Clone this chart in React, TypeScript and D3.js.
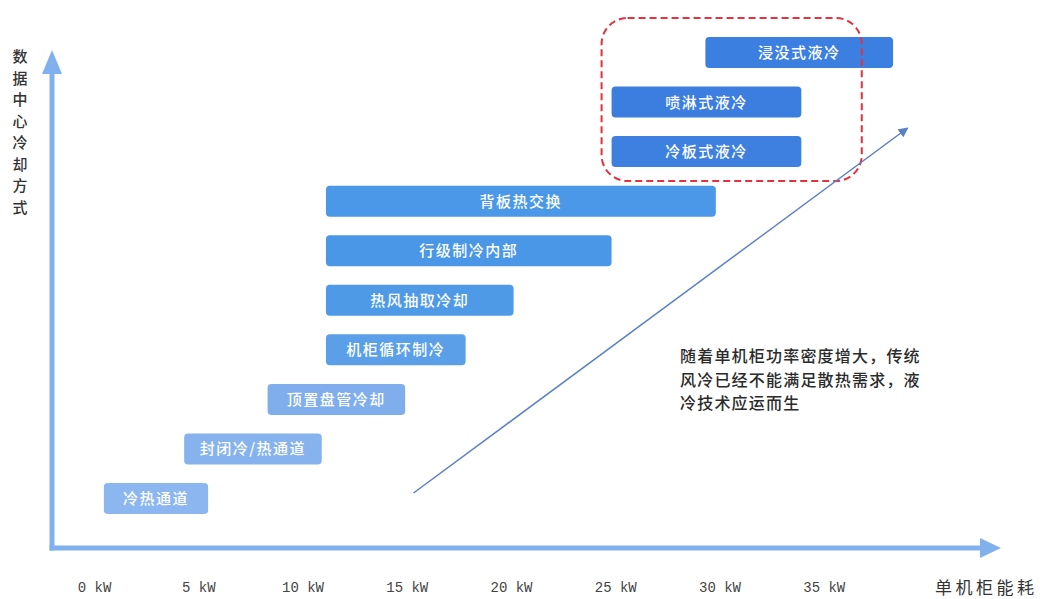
import React from "react";
import * as d3 from "d3";

const categories = [
  "浸没式液冷",
  "喷淋式液冷",
  "冷板式液冷",
  "背板热交换",
  "行级制冷内部",
  "热风抽取冷却",
  "机柜循环制冷",
  "顶置盘管冷却",
  "封闭冷/热通道",
  "冷热通道",
];
const startKW = [29.3, 24.8, 24.8, 11.1, 11.1, 11.1, 11.1, 8.3, 4.3, 0.45];
const endKW = [38.3, 33.9, 33.9, 29.8, 24.8, 20.1, 17.8, 14.9, 10.9, 5.45];
const barColors = [
  "#3b7fe0", "#3b7ee0", "#3d80e0", "#4a98e7", "#4a97e7",
  "#4f9ae7", "#5a9fe7", "#80aeec", "#86b3ee", "#8bb6ef",
];
const tickValues = [0, 5, 10, 15, 20, 25, 30, 35];
const tickUnit = " kW";
const xAxisTitle = "单机柜能耗";
const yAxisTitle = "数据中心冷却方式";
const noteLines = [
  "随着单机柜功率密度增大，传统",
  "风冷已经不能满足散热需求，液",
  "冷技术应运而生",
];

export default function App() {
  const W = 1040;
  const H = 599;
  const x = d3.scaleLinear().domain([0, 40]).range([94.5, 928.5]);
  const y = d3
    .scaleBand<string>()
    .domain(categories)
    .range([37, 514])
    .paddingInner(0.375)
    .paddingOuter(0);
  const axisColor = "#80b1ee";
  const cjk = "'Noto Sans CJK SC', 'Noto Sans', sans-serif";

  const liquid = categories.slice(0, 3);
  const boxTop = (y(liquid[0]) ?? 0) - 19;
  const boxBottom = (y(liquid[2]) ?? 0) + y.bandwidth() + 14;
  const boxLeft = x(24.8) - 10;
  const boxRight = x(36.8);

  return (
    <div style={{ position: "absolute", left: 0, top: 0 }}>
      <svg width={W} height={H} style={{ display: "block", background: "#fff" }}>
        <defs>
          <marker
            id="thinArrow"
            viewBox="0 0 10 10"
            refX="9"
            refY="5"
            markerWidth="10"
            markerHeight="10"
            markerUnits="userSpaceOnUse"
            orient="auto"
          >
            <path d="M0,0 L10,5 L0,10 z" fill="#5a80c8" />
          </marker>
        </defs>

        {/* axes */}
        <line x1={52} y1={72} x2={52} y2={550.5} stroke={axisColor} strokeWidth={5} />
        <path d="M42,74 L52,50 L62,74 Z" fill={axisColor} />
        <line x1={49.5} y1={548} x2={982} y2={548} stroke={axisColor} strokeWidth={5} />
        <path d="M980,538 L1001,548 L980,558 Z" fill={axisColor} />

        {/* y title */}
        {Array.from(yAxisTitle).map((ch, i) => (
          <text
            key={i}
            x={20}
            y={62 + i * 21.5}
            textAnchor="middle"
            fontFamily={cjk}
            fontSize={15}
            fontWeight={500}
            fill="#333"
          >
            {ch}
          </text>
        ))}

        {/* x ticks */}
        {tickValues.map((v) => (
          <text
            key={v}
            x={x(v)}
            y={592}
            textAnchor="middle"
            fontFamily="'Liberation Mono', 'DejaVu Sans Mono', monospace"
            fontSize={14}
            fill="#444"
          >
            {v + tickUnit}
          </text>
        ))}
        <text x={935} y={594} fontFamily={cjk} fontSize={17} fill="#333" letterSpacing={3.5}>
          {xAxisTitle}
        </text>

        {/* bars */}
        {categories.map((c, i) => {
          const x0 = x(startKW[i]);
          const x1 = x(endKW[i]);
          const yy = y(c) ?? 0;
          return (
            <g key={c}>
              <rect
                x={x0}
                y={yy}
                width={x1 - x0}
                height={y.bandwidth()}
                rx={4}
                fill={barColors[i]}
              />
              <text
                x={(x0 + x1) / 2}
                y={yy + y.bandwidth() / 2 + 5.5}
                textAnchor="middle"
                fontFamily={cjk}
                fontSize={15}
                fontWeight={500}
                letterSpacing={1.5}
                fill="#fff"
              >
                {c}
              </text>
            </g>
          );
        })}

        {/* dashed box */}
        <rect
          x={boxLeft}
          y={boxTop}
          width={boxRight - boxLeft}
          height={boxBottom - boxTop}
          rx={26}
          fill="none"
          stroke="#e3313d"
          strokeWidth={2}
          strokeDasharray="7,4"
        />

        {/* trend arrow */}
        <line
          x1={x(15.3)}
          y1={493}
          x2={x(39.0)}
          y2={128}
          stroke="#5a80c8"
          strokeWidth={1.5}
          markerEnd="url(#thinArrow)"
        />

        {/* note */}
        {noteLines.map((t, i) => (
          <text
            key={i}
            x={680}
            y={362 + i * 23.5}
            fontFamily={cjk}
            fontSize={16}
            fontWeight={500}
            letterSpacing={1.2}
            fill="#2b2b2b"
          >
            {t}
          </text>
        ))}
      </svg>
    </div>
  );
}
